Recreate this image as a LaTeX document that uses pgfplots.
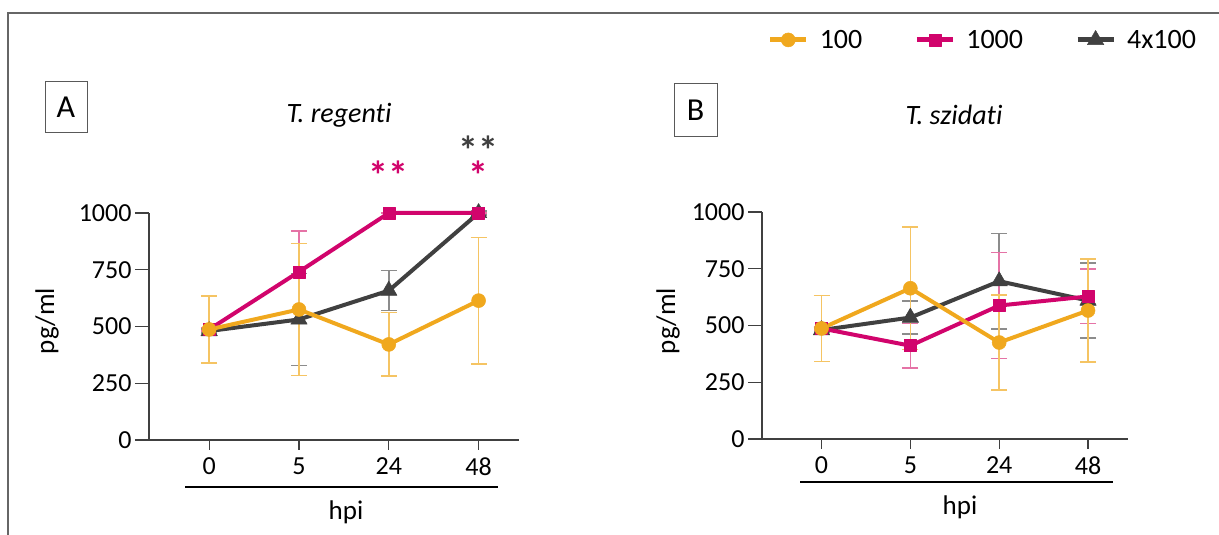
\documentclass[border=0pt]{standalone}
\usepackage{pgfplots}
\usepackage{pgfplotstable}
\pgfplotsset{compat=1.18}
\usepackage{fontspec}
\setmainfont{Carlito}[Ligatures={NoCommon}]
\definecolor{cOr}{HTML}{F0A81E}
\definecolor{cMg}{HTML}{D1046C}
\definecolor{cGy}{HTML}{404040}
\definecolor{cOrL}{HTML}{F5C463}
\definecolor{cMgL}{HTML}{E573A6}
\definecolor{cGyL}{HTML}{8C8C8C}

% Panel A (T. regenti)
\pgfplotstableread{
x y e
0 487 147
1 575 290
2 421 140
3 614 278
}\AH
\pgfplotstableread{
x y e
0 487 8
1 741 180
2 1000 0
3 1000 0
}\AM
\pgfplotstableread{
x y e
0 480 8
1 531 202
2 658 88
3 1000 10
}\AG
% Panel B (T. szidati)
\pgfplotstableread{
x y e
0 487 146
1 664 270
2 425 210
3 566 228
}\BH
\pgfplotstableread{
x y e
0 487 8
1 411 97
2 588 233
3 628 120
}\BM
\pgfplotstableread{
x y e
0 480 8
1 535 72
2 695 210
3 610 166
}\BG

\tikzset{starlbl/.style={anchor=base, inner sep=0pt, font=\fontsize{40}{40}\selectfont\bfseries}}

\pgfplotsset{
  panel/.style={
    scale only axis, height=227pt, clip=false,
    xmin=-0.67, xmax=3.45, ymin=0, ymax=1000,
    axis x line=bottom, axis y line=left,
    axis line style={-, line width=1.3pt, color=cGy},
    xtick={0,1,2,3}, xticklabels={0,5,24,48},
    ytick={0,250,500,750,1000}, yticklabels={0,250,500,750,1000},
    tick align=outside,
    major tick length=14pt,
    tick style={line width=1.3pt, color=cGy},
    xtick style={/pgfplots/major tick length=10pt},
    tick label style={font=\fontsize{26}{30}\selectfont},
    /pgf/number format/assume math mode=true,
  },
  ebar/.style={forget plot, draw=none, mark=none,
    error bars/.cd, y dir=both, y explicit,
    error bar style={draw=#1, line width=1.6pt},
    error mark options={draw=#1, rotate=90, mark size=8pt, line width=1.6pt}},
  sG/.style={cGy, line width=4pt, line join=round, mark=triangle*, mark size=9.5pt, mark options={line width=0.5pt}},
  sM/.style={cMg, line width=4pt, line join=round, mark=square*, mark size=6pt, mark options={line width=0.5pt}},
  sO/.style={cOr, line width=4pt, line join=round, mark=*, mark size=7pt, mark options={line width=0.5pt}},
}

\begin{document}
\begin{tikzpicture}[x=1pt,y=1pt]
\useasboundingbox (0,0) rectangle (1219,535);
\draw[line width=2pt, color=gray!80!black] (8,0) -- (8,522) -- (1219,522);

% ---------- Panel A ----------
\begin{axis}[panel, width=370pt, at={(149pt,95pt)}, anchor=south west]
\addplot[ebar=cGyL] table[x=x,y=y,y error=e]{\AG};
\addplot[ebar=cMgL] table[x=x,y=y,y error=e]{\AM};
\addplot[ebar=cOrL] table[x=x,y=y,y error=e]{\AH};
\addplot[sG] table[x=x,y=y]{\AG};
\addplot[sM] table[x=x,y=y]{\AM};
\addplot[sO] table[x=x,y=y]{\AH};
\node[starlbl, text=cMg] at (axis cs:2,1105) {**};
\node[starlbl, text=cMg] at (axis cs:3,1105) {*};
\node[starlbl, text=cGy] at (axis cs:3,1215) {**};
\end{axis}

% ---------- Panel B ----------
\begin{axis}[panel, width=366pt, at={(762pt,96pt)}, anchor=south west,
  reverse legend, legend columns=3,
  legend style={draw=none, fill=none, at={(axis description cs:1.2,1.758)}, anchor=east,
    font=\fontsize{28}{32}\selectfont,
    /tikz/every odd column/.append style={column sep=9pt},
    /tikz/every even column/.append style={column sep=50pt}},
  legend image code/.code={\draw[mark repeat=2,mark phase=2,#1,line width=5pt] plot coordinates {(0pt,0pt) (18pt,0pt) (36pt,0pt)};}]
\addplot[ebar=cGyL] table[x=x,y=y,y error=e]{\BG};
\addplot[ebar=cMgL] table[x=x,y=y,y error=e]{\BM};
\addplot[ebar=cOrL] table[x=x,y=y,y error=e]{\BH};
\addplot[sG] table[x=x,y=y]{\BG};
\addlegendentry{4x100}
\addplot[sM] table[x=x,y=y]{\BM};
\addlegendentry{1000}
\addplot[sO] table[x=x,y=y]{\BH};
\addlegendentry{100}
\end{axis}

% ---------- decorations ----------
\node[draw=gray!70!black, line width=1pt, minimum width=42pt, minimum height=51pt, inner sep=0pt,
  font=\fontsize{32}{36}\selectfont] at (66,427.5) {A};
\node[draw=gray!70!black, line width=1pt, minimum width=43pt, minimum height=53pt, inner sep=0pt,
  font=\fontsize{32}{36}\selectfont] at (695.5,425) {B};
\node[anchor=base, font=\fontsize{28}{32}\selectfont\itshape] at (339,412) {T. regenti};
\node[anchor=base, font=\fontsize{28}{32}\selectfont\itshape] at (954,410) {T. szidati};
\node[rotate=90, font=\fontsize{27}{30}\selectfont] at (47,214) {pg/ml};
\node[rotate=90, font=\fontsize{27}{30}\selectfont] at (668,214) {pg/ml};
\draw[line width=1.5pt] (185,48) -- (498,48);
\draw[line width=1.5pt] (800,53) -- (1113,53);
\node[anchor=base, font=\fontsize{27}{30}\selectfont] at (346,15) {hpi};
\node[anchor=base, font=\fontsize{27}{30}\selectfont] at (960,20) {hpi};
\end{tikzpicture}
\end{document}
